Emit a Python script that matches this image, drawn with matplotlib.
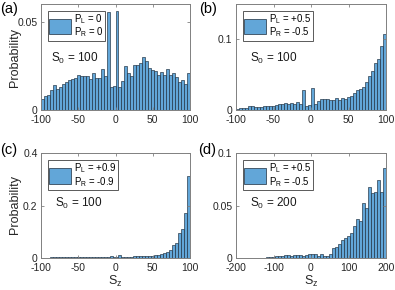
import numpy as np
import matplotlib
matplotlib.use("Agg")
import matplotlib.pyplot as plt
from matplotlib.patches import Patch

plt.rcParams['font.family'] = ['Liberation Sans', 'DejaVu Sans']
plt.rcParams['mathtext.fontset'] = 'custom'
plt.rcParams['mathtext.rm'] = 'Liberation Sans'
plt.rcParams['mathtext.it'] = 'Liberation Sans:italic'
plt.rcParams['mathtext.default'] = 'regular'

# ---- data ----
centers_100 = np.arange(-98, 99, 4)
centers_200 = np.arange(-196, 197, 8)

prob_a = [0.0063, 0.0082, 0.0086, 0.0114, 0.0143, 0.0118, 0.013, 0.015, 0.016, 0.017,
          0.0175, 0.018, 0.020, 0.019, 0.019, 0.019, 0.0175, 0.021, 0.018, 0.018,
          0.023, 0.019, 0.0557, 0.013, 0.0137, 0.056, 0.013, 0.0165, 0.0247, 0.021,
          0.019, 0.0255, 0.0255, 0.0266, 0.030, 0.028, 0.024, 0.0226, 0.022, 0.020,
          0.0215, 0.020, 0.023, 0.020, 0.021, 0.0186, 0.016, 0.0167, 0.0148, 0.021]

prob_b = [0.002, 0.0024, 0.003, 0.003, 0.005, 0.005, 0.004, 0.004, 0.004, 0.005,
          0.005, 0.005, 0.006, 0.007, 0.008, 0.009, 0.0095, 0.0086, 0.0105, 0.008,
          0.011, 0.0086, 0.0286, 0.0057, 0.0076, 0.031, 0.0081, 0.0129, 0.0157, 0.0157,
          0.0152, 0.0143, 0.0148, 0.0167, 0.0148, 0.0176, 0.0152, 0.0186, 0.020, 0.0238,
          0.0276, 0.0295, 0.0324, 0.039, 0.0476, 0.0548, 0.0667, 0.0724, 0.0905, 0.107]

prob_c = [0.0005, 0.0005, 0.0005, 0.0008, 0.0008, 0.001, 0.001, 0.001, 0.001, 0.0012,
          0.0012, 0.0012, 0.0015, 0.0015, 0.0015, 0.0018, 0.002, 0.002, 0.002, 0.002,
          0.0025, 0.0025, 0.003, 0.006, 0.002, 0.0025, 0.009, 0.003, 0.004, 0.004,
          0.004, 0.005, 0.005, 0.006, 0.006, 0.007, 0.008, 0.008, 0.009, 0.010,
          0.013, 0.017, 0.023, 0.029, 0.050, 0.055, 0.093, 0.11, 0.17, 0.313]

prob_d = [0, 0, 0, 0, 0, 0, 0, 0, 0, 0,
          0.0005, 0.001, 0.001, 0.0012, 0.0015, 0.002, 0.0025, 0.0025, 0.002, 0.0025,
          0.0025, 0.003, 0.002, 0.003, 0.0035, 0.004, 0.0035, 0.002, 0.0032, 0.002,
          0.0016, 0.0035, 0.009, 0.0105, 0.0128, 0.017, 0.0185, 0.021, 0.024, 0.030,
          0.037, 0.035, 0.052, 0.048, 0.068, 0.062, 0.063, 0.074, 0.063, 0.086]

legend_labels = ['$P_L$ = 0\n$P_R$ = 0', '$P_L$ = +0.5\n$P_R$ = -0.5',
                 '$P_L$ = +0.9\n$P_R$ = -0.9', '$P_L$ = +0.5\n$P_R$ = -0.5']
s0_labels = ['$S_0$ = 100', '$S_0$ = 100', '$S_0$ = 100', '$S_0$ = 200']
panel_labels = ['(a)', '(b)', '(c)', '(d)']

face = '#62a6d8'
edge = '#1c2c3c'
spine_c = '#808080'

fig = plt.figure(figsize=(3.95, 2.90), dpi=100)
W, H = 395, 290

def add_ax(l, r, t, b):
    return fig.add_axes([l / W, 1 - b / H, (r - l) / W, (b - t) / H])

axes = [add_ax(41, 190, 4, 110), add_ax(236, 386, 4, 110),
        add_ax(41, 190, 153.3, 257.7), add_ax(236, 386, 153.3, 257.7)]

datas = [(centers_100, prob_a, 4), (centers_100, prob_b, 4),
         (centers_100, prob_c, 4), (centers_200, prob_d, 8)]
ylims = [0.06, 0.15, 0.4, 0.1]
yticks = [[0, 0.05], [0, 0.1], [0, 0.2, 0.4], [0, 0.05, 0.1]]
ytl = [['0', '0.05'], ['0', '0.1'], ['0', '0.2', '0.4'], ['0', '0.05', '0.1']]
xlims = [(-100, 100), (-100, 100), (-100, 100), (-200, 200)]
xticks = [[-100, -50, 0, 50, 100]] * 3 + [[-200, -100, 0, 100, 200]]

for i, ax in enumerate(axes):
    x, y, w = datas[i]
    ax.bar(x, y, width=w, color=face, edgecolor=edge, linewidth=0.45)
    ax.set_xlim(*xlims[i])
    ax.set_ylim(0, ylims[i])
    ax.set_xticks(xticks[i])
    ax.set_xticklabels([str(v) for v in xticks[i]])
    ax.set_yticks(yticks[i])
    ax.set_yticklabels(ytl[i])
    ax.tick_params(direction='in', length=2.5, width=0.6, colors=spine_c,
                   labelcolor='#262626', labelsize=7.5, top=True, right=True)
    ax.tick_params(axis='x', pad=3.5)
    ax.tick_params(axis='y', pad=2.5)
    for s in ax.spines.values():
        s.set_color(spine_c)
        s.set_linewidth(0.7)
    leg = ax.legend(handles=[Patch(facecolor=face, edgecolor=edge, linewidth=0.5)],
                    labels=[legend_labels[i]], loc='upper left', fontsize=6.9,
                    handlelength=2.3, handleheight=2.1, handletextpad=0.3,
                    borderpad=0.15, borderaxespad=0.7, fancybox=False,
                    framealpha=1, edgecolor='0.35')
    for t in leg.get_texts():
        t.set_linespacing(0.95)
    leg.get_frame().set_linewidth(0.7)
    ax.text(0.07 if i == 0 else 0.093, 0.49 if i < 2 else 0.52, s0_labels[i],
            transform=ax.transAxes, fontsize=8.5, va='center', ha='left', color='#1a1a1a')

for i, ax in enumerate(axes[2:]):
    ax.set_xlabel('$S_z$', fontsize=9, labelpad=1, color='#262626')

fig.text(14.5 / W, 1 - 57 / H, 'Probability', rotation=90, fontsize=9,
         ha='center', va='center', color='#262626')
fig.text(14.5 / W, 1 - 204 / H, 'Probability', rotation=90, fontsize=9,
         ha='center', va='center', color='#262626')

pl_pos = [(0, 9), (199, 9), (0, 150), (198, 150)]
for (px, py), lab in zip(pl_pos, panel_labels):
    fig.text(px / W, 1 - py / H, lab, fontsize=10.5, ha='left', va='center')

fig.savefig('out.png', dpi=100)
